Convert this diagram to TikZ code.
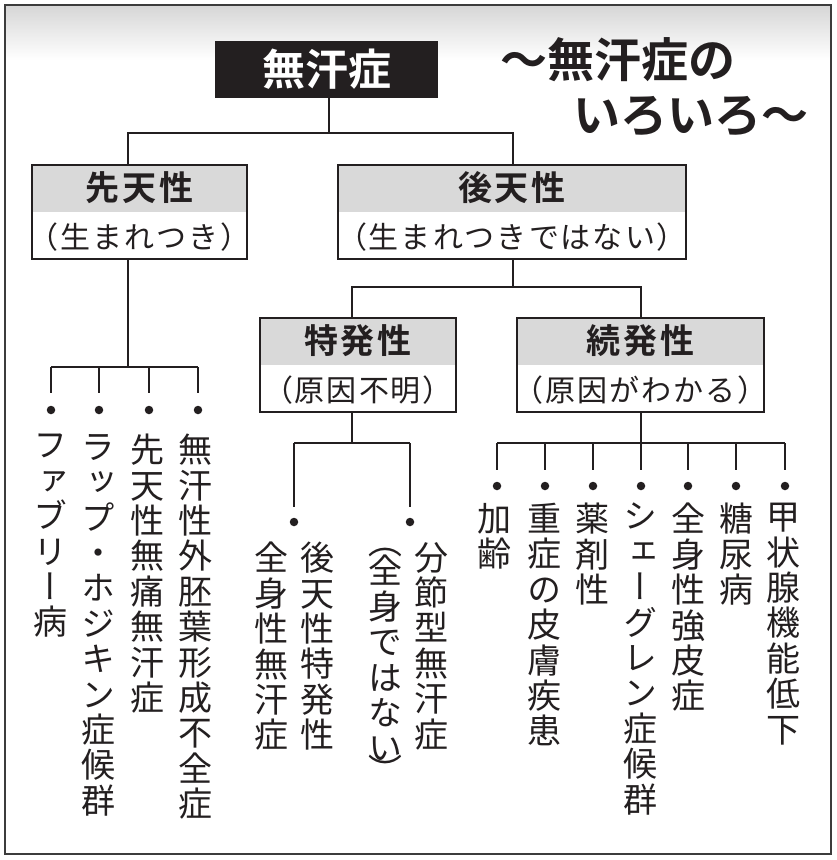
\documentclass[tikz,border=0pt]{standalone}
\usepackage{fontspec}
\usepackage{graphicx}
\setmainfont{Noto Sans CJK JP}[BoldFont={Noto Sans CJK JP Bold}]
\newfontfamily\vjp{Noto Sans CJK JP}[RawFeature={+vert}]
\definecolor{inkc}{HTML}{231F20}
\definecolor{bandc}{HTML}{D9D9D9}
\definecolor{framec}{HTML}{3C3C3C}
\definecolor{topg}{HTML}{D6D6D6}
\ExplSyntaxOn
\NewDocumentCommand\spc{mm}
 {
  \seq_clear:N \l_tmpa_seq
  \tl_map_inline:nn {#2} { \seq_put_right:Nn \l_tmpa_seq {##1} }
  \seq_use:Nn \l_tmpa_seq { \kern #1 }
 }
\NewDocumentCommand\vc{m}
 {
  \seq_clear:N \l_tmpa_seq
  \tl_map_inline:nn {#1} { \seq_put_right:Nn \l_tmpa_seq {##1} }
  \seq_use:Nn \l_tmpa_seq { \\ }
 }
\ExplSyntaxOff
\begin{document}
\begin{tikzpicture}[x=1pt,y=-1pt,
  conn/.style={draw=inkc, line width=2pt},
  rootbox/.style={fill=inkc, text=white, inner sep=0, minimum width=223, minimum height=57,
    font=\bfseries\fontsize{43}{43}\selectfont},
  titletxt/.style={inner sep=0, text=inkc, font=\bfseries\fontsize{47}{47}\selectfont},
  catbox/.style={draw=inkc, line width=2.2pt, fill=white, inner sep=0, minimum height=94,
    path picture={\fill[bandc] (path picture bounding box.north west) rectangle ([yshift=-47pt]path picture bounding box.north east);}},
  hd/.style={anchor=base, inner sep=0, text=inkc, font=\bfseries\fontsize{34}{34}\selectfont},
  sb/.style={anchor=base, inner sep=0, text=inkc, font=\fontsize{30}{30}\selectfont},
  dotn/.style={circle, fill=inkc, inner sep=0, minimum size=8.5},
  vcol/.style={anchor=north, inner sep=0, align=center, text=inkc, font=\vjp\fontsize{34}{35.4}\selectfont},
  paren/.style={anchor=center, inner sep=0, text=inkc, font=\fontsize{34}{35.4}\selectfont}
]
\useasboundingbox (0,0) rectangle (837,860);
\fill[white] (0,0) rectangle (837,860);
\shade[top color=topg, bottom color=white] (5,5) rectangle (831,60);
\draw[framec, line width=2pt] (5,5) rectangle (831,854);

% root and title
\node[rootbox] (root) at (326.5,69.5) {無汗症};
\node[titletxt, anchor=base west] (t1) at (500,77) {〜無汗症の};
\node[titletxt, anchor=base west] (t2) at (573,132) {いろいろ〜};

% level 1 boxes
\node[catbox, minimum width=215] (sen) at (139.5,212) {};
\node[hd] (senh) at (139.5,200) {\spc{3pt}{先天性}};
\node[sb] (sens) at (139.5,248) {\spc{2pt}{（生まれつき）}};

\node[catbox, minimum width=348] (kou) at (512,212) {};
\node[hd] (kouh) at (512,200) {\spc{3pt}{後天性}};
\node[sb] (kous) at (512,248) {\spc{2pt}{（生まれつきではない）}};

% level 2 boxes
\node[catbox, minimum width=196] (tok) at (358,365) {};
\node[hd] (tokh) at (358,353) {\spc{3pt}{特発性}};
\node[sb] (toks) at (358,401) {\spc{2pt}{（原因不明）}};

\node[catbox, minimum width=247] (zok) at (640.5,365) {};
\node[hd] (zokh) at (640.5,353) {\spc{3pt}{続発性}};
\node[sb] (zoks) at (640.5,401) {\spc{2pt}{（原因がわかる）}};

% connectors level 0 -> 1
\coordinate (j0) at (329,133);
\draw[conn] (root.south -| j0) -- (j0);
\draw[conn] ([xshift=-11.5pt]sen.north) |- (j0) -| ([xshift=1pt]kou.north);

% connectors level 1 -> 2
\coordinate (j2) at (513,287);
\draw[conn] ([xshift=1pt]kou.south) -- (j2);
\draw[conn] ([xshift=-6pt]tok.north) |- (j2) -| ([xshift=0.5pt]zok.north);

% congenital list
\node[dotn] (sd1) at (51,410) {};
\node[dotn] (sd2) at (99,410) {};
\node[dotn] (sd3) at (149,410) {};
\node[dotn] (sd4) at (198,410) {};
\coordinate (j1) at (128,367);
\draw[conn] ([xshift=-11.5pt]sen.south) -- (j1);
\draw[conn] (sd1 |- j1) -- (sd4 |- j1);
\foreach \d in {sd1,sd2,sd3,sd4}
  \draw[conn] (\d |- j1) -- ([yshift=17pt]\d.center);

\node[vcol] (c1) at (51,434) {\vc{ファブリー病}};
\node[vcol] (c2) at (98.5,434) {\vc{ラップ・ホジキン症候群}};
\node[vcol] (c3) at (147,434) {\vc{先天性無痛無汗症}};
\node[vcol] (c4) at (195,434) {\vc{無汗性外胚葉形成不全症}};

% idiopathic list
\node[dotn] (td1) at (294,522) {};
\node[dotn] (td2) at (410,522) {};
\coordinate (j3) at (352,443);
\draw[conn] ([xshift=-6pt]tok.south) -- (j3);
\draw[conn] (td1 |- j3) -- (td2 |- j3);
\foreach \d in {td1,td2}
  \draw[conn] (\d |- j3) -- ([yshift=15pt]\d.center);

\node[vcol] (c5) at (317,542) {\vc{後天性特発性}};
\node[vcol] (c6) at (271,542) {\vc{全身性無汗症}};
\node[vcol] (c7) at (431,542) {\vc{分節型無汗症}};
\node[paren] (c8a) at (385,541) {\rotatebox{-90}{（}};
\node[vcol] (c8) at (385,555) {\vc{全身ではない}};
\node[paren] (c8b) at (385,770) {\rotatebox{-90}{）}};

% secondary list
\node[dotn] (zd1) at (497,486) {};
\node[dotn] (zd2) at (545,486) {};
\node[dotn] (zd3) at (593,486) {};
\node[dotn] (zd4) at (641,486) {};
\node[dotn] (zd5) at (688,486) {};
\node[dotn] (zd6) at (736,486) {};
\node[dotn] (zd7) at (785,486) {};
\coordinate (j4) at (641,443);
\draw[conn] ([xshift=0.5pt]zok.south) -- (j4);
\draw[conn] (zd1 |- j4) -- (zd7 |- j4);
\foreach \d in {zd1,zd2,zd3,zd4,zd5,zd6,zd7}
  \draw[conn] (\d |- j4) -- ([yshift=16pt]\d.center);

\node[vcol] (c9)  at (494,503) {\vc{加齢}};
\node[vcol] (c10) at (544,503) {\vc{重症の皮膚疾患}};
\node[vcol] (c11) at (592,503) {\vc{薬剤性}};
\node[vcol] (c12) at (640,503) {\vc{シェーグレン症候群}};
\node[vcol] (c13) at (688,503) {\vc{全身性強皮症}};
\node[vcol] (c14) at (736,503) {\vc{糖尿病}};
\node[vcol] (c15) at (783,503) {\vc{甲状腺機能低下}};
\end{tikzpicture}
\end{document}
